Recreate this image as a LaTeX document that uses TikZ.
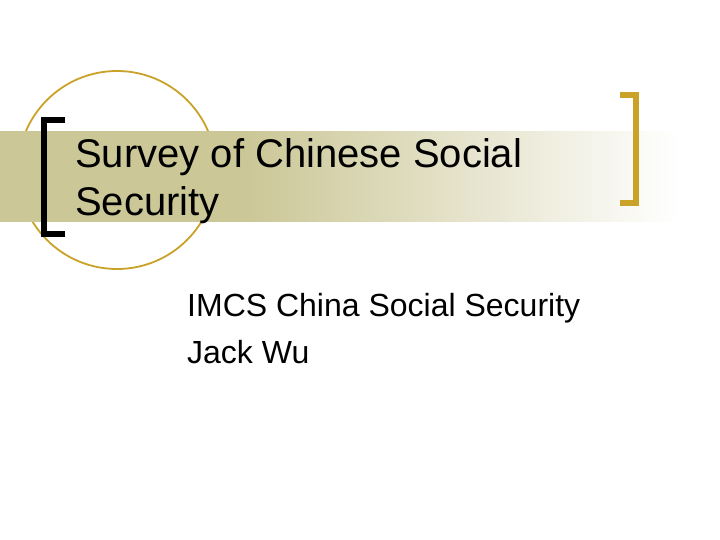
\documentclass[tikz,border=0pt]{standalone}
\usepackage{fontspec}
\setmainfont{Liberation Sans}
\definecolor{gold}{HTML}{C9A227}
\definecolor{olive}{HTML}{CBC797}
\pgfdeclarehorizontalshading{band}{100bp}{color(0bp)=(olive); color(43bp)=(olive); color(75bp)=(white); color(100bp)=(white)}
\begin{document}
\begin{tikzpicture}[x=1pt,y=-1pt,
  txt/.style={anchor=base west,inner sep=0pt,font=\fontsize{40}{46}\selectfont}]
\useasboundingbox (0,0) rectangle (720,540);
\draw[gold,line width=1.8] (117,170) circle (99);
\shade[shading=band] (0,132) rectangle (680,222);
\draw[black,line width=6] (65,120) -- (44,120) -- (44,234) -- (65,234);
\draw[gold,line width=6] (620,95) -- (636,95) -- (636,203) -- (620,203);
\node[txt] (t1) at (75,168) {Survey of Chinese Social};
\node[txt] (t2) at (75,215) {Security};
\node[txt,font=\fontsize{32}{36}\selectfont] (s1) at (187,316) {IMCS China Social Security};
\node[txt,font=\fontsize{32}{36}\selectfont] (s2) at (187,363) {Jack Wu};
\end{tikzpicture}
\end{document}
